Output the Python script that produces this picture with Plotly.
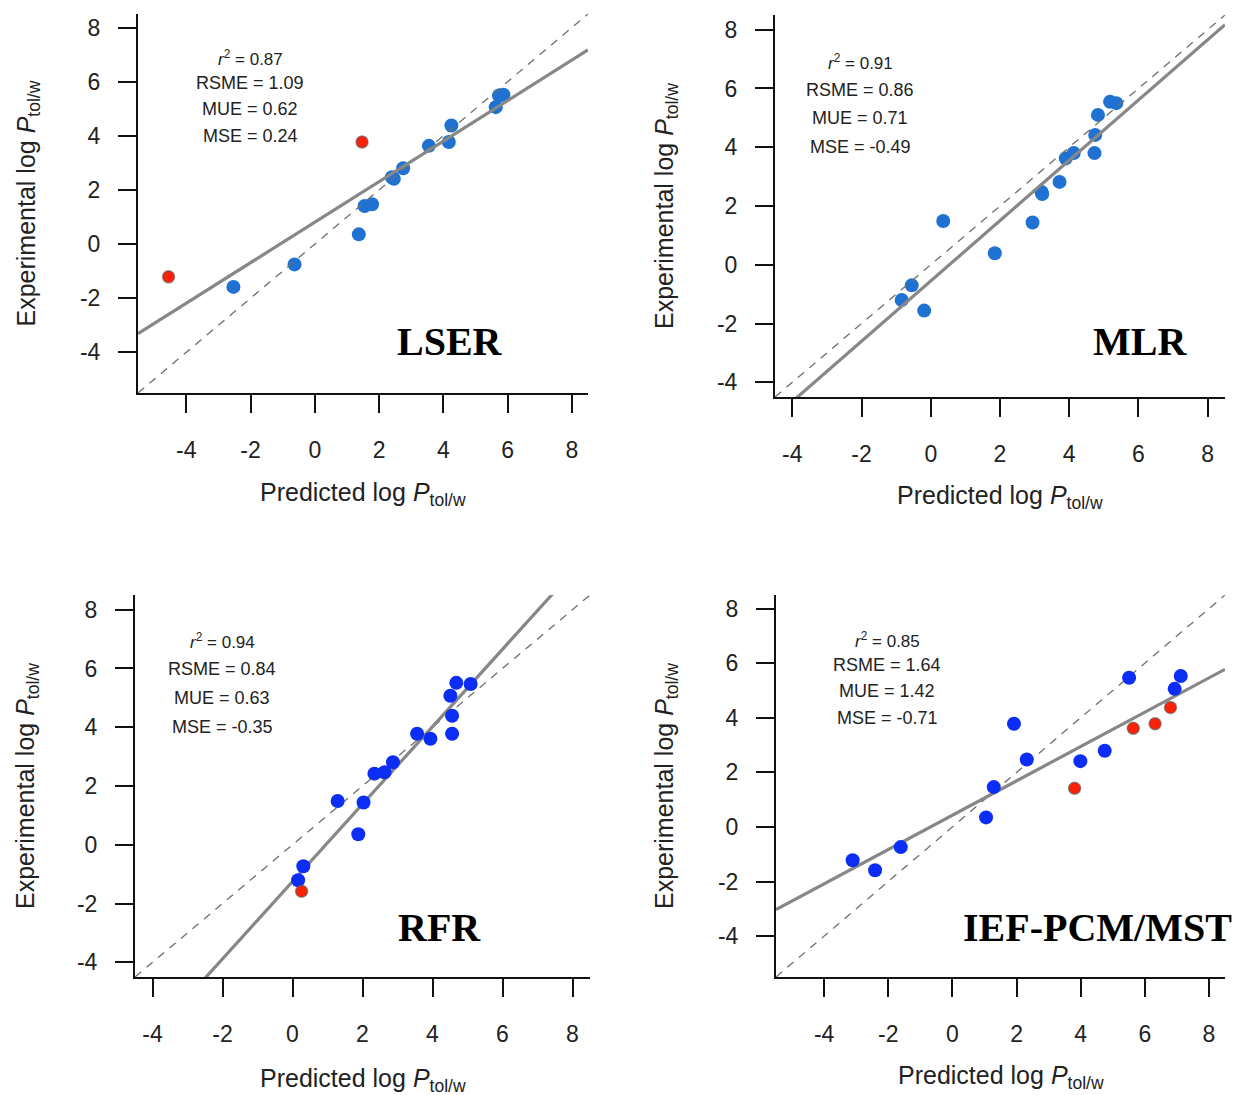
import plotly.graph_objects as go

W, H = 1241, 1095

# ---------------- data ----------------
models = ["LSER", "MLR", "RFR", "IEF-PCM/MST"]

lser_pred = [-4.55, -2.53, -0.63, 1.37, 1.55, 1.78, 1.47, 2.40, 2.46, 2.75, 3.55, 4.17, 4.25, 5.63, 5.73, 5.87]
lser_exp = [-1.21, -1.58, -0.75, 0.36, 1.41, 1.47, 3.77, 2.47, 2.41, 2.80, 3.63, 3.77, 4.38, 5.06, 5.49, 5.52]
lser_out = [1, 0, 0, 0, 0, 0, 1, 0, 0, 0, 0, 0, 0, 0, 0, 0]

mlr_pred = [-0.84, -0.55, -0.19, 0.36, 1.85, 2.94, 3.20, 3.22, 3.72, 3.90, 4.13, 4.73, 4.75, 4.83, 5.18, 5.36]
mlr_exp = [-1.20, -0.70, -1.56, 1.49, 0.39, 1.44, 2.48, 2.41, 2.82, 3.62, 3.80, 3.80, 4.42, 5.10, 5.55, 5.50]
mlr_out = [0] * 16

rfr_pred = [0.26, 0.16, 0.31, 1.29, 1.88, 2.03, 2.34, 2.63, 2.87, 3.56, 3.94, 4.56, 4.56, 4.51, 4.68, 5.09]
rfr_exp = [-1.58, -1.21, -0.73, 1.49, 0.36, 1.44, 2.42, 2.47, 2.81, 3.78, 3.61, 3.78, 4.39, 5.07, 5.51, 5.47]
rfr_out = [1, 0, 0, 0, 0, 0, 0, 0, 0, 0, 0, 0, 0, 0, 0, 0]

ief_pred = [-3.11, -2.41, -1.61, 1.05, 1.29, 3.81, 1.92, 2.32, 3.99, 4.75, 5.64, 6.32, 6.80, 6.93, 7.12, 5.51]
ief_exp = [-1.22, -1.59, -0.74, 0.35, 1.46, 1.42, 3.78, 2.47, 2.41, 2.79, 3.62, 3.78, 4.38, 5.06, 5.53, 5.47]
ief_out = [0, 0, 0, 0, 0, 1, 0, 0, 0, 0, 1, 1, 1, 0, 0, 0]

fit_slope = [0.749, 1.026, 1.317, 0.629]
fit_intercept = [0.81, -0.55, -1.25, 0.43]

r2 = ["0.87", "0.91", "0.94", "0.85"]
rsme = ["1.09", "0.86", "0.84", "1.64"]
mue = ["0.62", "0.71", "0.63", "1.42"]
mse = ["0.24", "-0.49", "-0.35", "-0.71"]

axis_ranges = [[-5.5, 8.5], [-4.5, 8.5], [-4.5, 8.5], [-5.5, 8.5]]
tick_values = [-4, -2, 0, 2, 4, 6, 8]
tick_labels = ["-4", "-2", "0", "2", "4", "6", "8"]

# ---------------- styling / layout ----------------
SANS = "Liberation Sans, Arial, sans-serif"
SERIF = "Liberation Serif, Times New Roman, serif"
blue_colors = ["#1f72d2", "#1f72d2", "#0b2df5", "#0b2df5"]
RED = "#fb2208"

# plot-area boxes in pixels: (left, right, top, bottom)
boxes = [(138, 588, 14, 393), (775, 1225, 15, 397), (135, 590, 595, 977), (776, 1225, 595, 977)]
stats_pos = [(250, [58, 83, 109, 136]), (860, [62, 90, 118, 147]),
             (222, [641, 669, 698, 727]), (887, [640, 665, 691, 718])]
label_pos = [(450, 341), (1140, 341), (440, 927), (1097, 927)]
ytitle_x = [27, 666, 27, 666]
xtitle_y = [494, 497, 1080, 1077]

panels = [(lser_pred, lser_exp, lser_out), (mlr_pred, mlr_exp, mlr_out),
          (rfr_pred, rfr_exp, rfr_out), (ief_pred, ief_exp, ief_out)]

fig = go.Figure()
layout = dict(width=W, height=H, margin=dict(l=0, r=0, t=0, b=0),
              paper_bgcolor="white", plot_bgcolor="white", showlegend=False,
              annotations=[])

def px_x(p):
    return p / W

def px_y(p):
    return 1 - p / H

for i, (pred, exp, out) in enumerate(panels):
    sfx = "" if i == 0 else str(i + 1)
    xa, ya = "x" + sfx, "y" + sfx
    l, r, t, b = boxes[i]
    rng = axis_ranges[i]

    bx = [p for p, o in zip(pred, out) if not o]
    by = [e for e, o in zip(exp, out) if not o]
    rx = [p for p, o in zip(pred, out) if o]
    ry = [e for e, o in zip(exp, out) if o]

    pts = [
        go.Scatter(x=bx, y=by, mode="markers", xaxis=xa, yaxis=ya,
                   marker=dict(size=14, color=blue_colors[i], line=dict(width=0))),
        go.Scatter(x=rx, y=ry, mode="markers", xaxis=xa, yaxis=ya,
                   marker=dict(size=12, color=RED,
                               line=dict(width=1.5, color="rgba(90,90,90,0.6)"))),
    ]
    lines = [
        go.Scatter(x=rng, y=rng, mode="lines", xaxis=xa, yaxis=ya,
                   line=dict(color="#6e6e6e", width=1.3, dash="8px,7px")),
        go.Scatter(x=rng, y=[fit_intercept[i] + fit_slope[i] * v for v in rng],
                   mode="lines", xaxis=xa, yaxis=ya,
                   line=dict(color="#878787", width=3.2)),
    ]
    traces = pts + lines if i < 2 else lines + pts
    for tr in traces:
        fig.add_trace(tr)

    common = dict(range=rng, showgrid=False, zeroline=False, showline=True,
                  linecolor="#111111", linewidth=2, ticks="outside", ticklen=18,
                  tickwidth=2, tickcolor="#111111", tickvals=tick_values,
                  ticktext=tick_labels,
                  tickfont=dict(family=SANS, size=23, color="#222222"))
    layout["xaxis" + sfx] = dict(common, domain=[px_x(l), px_x(r)], anchor=ya,
                                 ticklabelstandoff=17)
    layout["yaxis" + sfx] = dict(common, domain=[px_y(b), px_y(t)], anchor=xa,
                                 ticklabelstandoff=13)

    # axis titles
    layout["annotations"].append(dict(
        text="Predicted log <i>P</i><sub>tol/w</sub>", xref="paper", yref="paper",
        x=px_x((l + r) / 2), y=px_y(xtitle_y[i]), xanchor="center", yanchor="middle",
        showarrow=False, font=dict(family=SANS, size=25, color="#222222")))
    layout["annotations"].append(dict(
        text="Experimental log <i>P</i><sub>tol/w</sub>", xref="paper", yref="paper",
        x=px_x(ytitle_x[i]), y=px_y((t + b) / 2), xanchor="center", yanchor="middle",
        textangle=-90, showarrow=False, font=dict(family=SANS, size=25, color="#222222")))

    # statistics block
    sx, sys = stats_pos[i]
    stat_lines = ["<i>r</i><sup>2</sup> = " + r2[i], "RSME = " + rsme[i],
                  "MUE = " + mue[i], "MSE = " + mse[i]]
    sizes = [17, 18, 18, 18]
    for txt, sy, fs in zip(stat_lines, sys, sizes):
        layout["annotations"].append(dict(
            text=txt, xref="paper", yref="paper", x=px_x(sx), y=px_y(sy),
            xanchor="center", yanchor="middle", showarrow=False,
            font=dict(family=SANS, size=fs, color="#222222")))

    # model label
    lx, ly = label_pos[i]
    layout["annotations"].append(dict(
        text="<b>" + models[i] + "</b>", xref="paper", yref="paper",
        x=px_x(lx), y=px_y(ly), xanchor="center", yanchor="middle", showarrow=False,
        font=dict(family=SERIF, size=40, color="black")))

fig.update_layout(**layout)
fig.write_html("out.html")
